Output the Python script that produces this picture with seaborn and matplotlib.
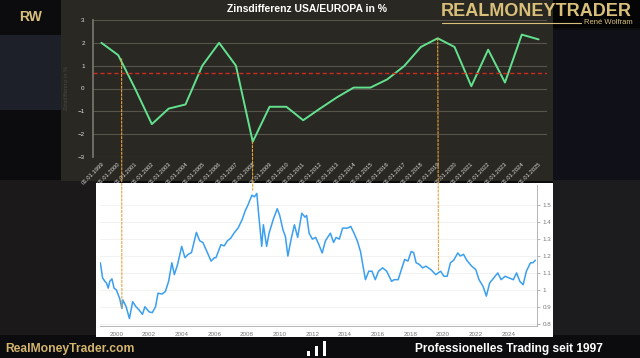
import numpy as np
import pandas as pd
import matplotlib
matplotlib.use('Agg')
import matplotlib.pyplot as plt
from matplotlib.patches import Rectangle, ConnectionPatch
from matplotlib.lines import Line2D
import seaborn as sns

# interest rate difference USA/Europe (yearly, 01.01.)
zins_years = list(range(1999, 2026))
zins_values = [2.0, 1.46, 0.0, -1.56, -0.88, -0.7, 1.0, 2.0, 1.0, -2.33,
               -0.8, -0.8, -1.39, -0.88, -0.39, 0.04, 0.04, 0.4, 0.98, 1.82,
               2.2, 1.82, 0.1, 1.7, 0.26, 2.36, 2.15]
zins_mean = 0.66

# EUR/USD (decimal years)
eur_dates = [1999.02, 1999.16, 1999.30, 1999.40, 1999.50, 1999.60, 1999.73, 1999.86,
             2000.00, 2000.20, 2000.34, 2000.40, 2000.60, 2000.80, 2001.00, 2001.20,
             2001.40, 2001.60, 2001.75, 2002.00, 2002.20, 2002.40, 2002.55, 2002.80,
             2003.00, 2003.20, 2003.40, 2003.55, 2003.75, 2004.00, 2004.20, 2004.40,
             2004.60, 2004.90, 2005.10, 2005.30, 2005.55, 2005.80, 2006.00, 2006.10,
             2006.40, 2006.60, 2006.80, 2007.00, 2007.20, 2007.45, 2007.70, 2007.90,
             2008.05, 2008.30, 2008.45, 2008.60, 2008.70, 2008.90, 2009.00, 2009.20,
             2009.35, 2009.60, 2009.85, 2010.00, 2010.20, 2010.35, 2010.50, 2010.70,
             2010.90, 2011.10, 2011.35, 2011.55, 2011.65, 2011.80, 2012.00, 2012.20,
             2012.40, 2012.60, 2012.80, 2013.10, 2013.30, 2013.45, 2013.65, 2013.85,
             2014.15, 2014.35, 2014.55, 2014.75, 2014.95, 2015.10, 2015.25, 2015.45,
             2015.65, 2015.85, 2016.05, 2016.30, 2016.55, 2016.85, 2017.00, 2017.25,
             2017.45, 2017.65, 2017.85, 2018.05, 2018.20, 2018.35, 2018.55, 2018.75,
             2018.95, 2019.25, 2019.55, 2019.85, 2020.05, 2020.25, 2020.45, 2020.65,
             2020.90, 2021.05, 2021.25, 2021.45, 2021.75, 2022.00, 2022.20, 2022.45,
             2022.65, 2022.85, 2023.10, 2023.35, 2023.55, 2023.80, 2024.05, 2024.30,
             2024.50, 2024.70, 2024.90, 2025.10, 2025.35, 2025.50, 2025.65]
eur_values = [1.16, 1.07, 1.05, 1.04, 1.01, 1.05, 1.065, 1.01,
              1.00, 0.95, 0.89, 0.94, 0.90, 0.83, 0.93, 0.90,
              0.88, 0.855, 0.90, 0.87, 0.865, 0.90, 0.98, 0.975,
              0.99, 1.05, 1.16, 1.09, 1.15, 1.257, 1.19, 1.21,
              1.22, 1.34, 1.29, 1.28, 1.225, 1.17, 1.19, 1.19,
              1.267, 1.26, 1.29, 1.305, 1.335, 1.365, 1.415, 1.47,
              1.50, 1.56, 1.55, 1.57, 1.46, 1.257, 1.385, 1.257,
              1.335, 1.415, 1.48, 1.44, 1.355, 1.315, 1.20, 1.30,
              1.385, 1.31, 1.453, 1.43, 1.44, 1.335, 1.30, 1.31,
              1.267, 1.218, 1.29, 1.335, 1.28, 1.31, 1.30, 1.365,
              1.365, 1.375, 1.335, 1.29, 1.225, 1.14, 1.06, 1.11,
              1.11, 1.06, 1.11, 1.13, 1.11, 1.05, 1.06, 1.06,
              1.12, 1.18, 1.17, 1.227, 1.22, 1.16, 1.15, 1.13,
              1.14, 1.12, 1.09, 1.11, 1.08, 1.08, 1.16, 1.175,
              1.218, 1.20, 1.21, 1.175, 1.14, 1.12, 1.06, 1.02,
              0.963, 1.04, 1.07, 1.10, 1.06, 1.08, 1.07, 1.06,
              1.10, 1.05, 1.03, 1.11, 1.16, 1.16, 1.175]

# dashed links between the two charts
link_top_x = [1.2, 8.98, 20.0]
link_top_y = [1.3, -2.33, 2.2]
link_bot_x = [2000.34, 2008.35, 2019.72]
link_bot_y = [0.89, 1.59, 1.11]

sns.set_theme(style="white")
plt.rcParams['font.family'] = ['Liberation Sans', 'DejaVu Sans']

W, H = 640, 358
GOLD = '#d9c07a'

def box(x0, y0, x1, y1):
    return [x0 / W, 1 - y1 / H, (x1 - x0) / W, (y1 - y0) / H]

def rect(x0, y0, x1, y1, color):
    fig.add_artist(Rectangle((x0 / W, 1 - y1 / H), (x1 - x0) / W, (y1 - y0) / H,
                             transform=fig.transFigure, color=color, lw=0, zorder=0))

fig = plt.figure(figsize=(6.4, 3.58), dpi=100, facecolor='#0c0c0f')

# video background
rect(0, 35, 61, 110, '#1e2029')
rect(0, 180, 96, 335, '#1b1919')
rect(553, 30, 640, 180, '#101018')
rect(553, 180, 640, 335, '#1c1c1e')

# top panel
bg_top = fig.add_axes(box(61, 0, 553, 181))
bg_top.set_facecolor('#2a2822')
bg_top.set_xticks([]); bg_top.set_yticks([])
for s in bg_top.spines.values():
    s.set_visible(False)

ax_top = fig.add_axes(box(93, 20, 547, 157))
ax_top.set_facecolor('none')
zins_df = pd.DataFrame({'idx': np.arange(len(zins_years)), 'wert': zins_values})
sns.lineplot(data=zins_df, x='idx', y='wert', ax=ax_top, color='#62e28f', lw=1.4)
ax_top.axhline(zins_mean, color='#cc2a22', ls=(0, (3, 2)), lw=1)
ax_top.set_xlim(-0.5, len(zins_years) - 0.5)
ax_top.set_ylim(-3, 3)
ax_top.set_yticks(range(-3, 4))
ax_top.set_xticks(zins_df['idx'])
ax_top.set_xticklabels([f'01.01.{y}' for y in zins_years], rotation=45, ha='right',
                       rotation_mode='anchor', fontsize=4.2, color='#d8d8d8')
ax_top.tick_params(axis='y', labelsize=4.5, labelcolor='#e0e0e0', length=0, pad=6)
ax_top.tick_params(axis='x', length=0, pad=3)
ax_top.grid(axis='y', color='#57544c', lw=0.8)
ax_top.grid(axis='x', visible=False)
for s in ['top', 'right', 'bottom']:
    ax_top.spines[s].set_visible(False)
ax_top.spines['left'].set_color('#77756d')
ax_top.set_xlabel('')
ax_top.set_ylabel('Zinsdifferenz in %', fontsize=4, color='#4a4840', labelpad=6)

fig.text(307 / W, 1 - 9 / H, 'Zinsdifferenz USA/EUROPA in %', ha='center', va='center',
         fontsize=7.5, fontweight='bold', color='white')

# bottom panel
bg_bot = fig.add_axes(box(96, 183, 553, 337))
bg_bot.set_facecolor('white')
bg_bot.set_xticks([]); bg_bot.set_yticks([])
for s in bg_bot.spines.values():
    s.set_visible(False)

ax_bot = fig.add_axes(box(100, 185, 537, 326))
ax_bot.set_facecolor('none')
sns.lineplot(x=eur_dates, y=eur_values, ax=ax_bot, color='#3a9ff0', lw=1.1)
ax_bot.set_xlim(1999.0, 2025.75)
ax_bot.set_ylim(0.786, 1.62)
ax_bot.yaxis.tick_right()
ax_bot.set_yticks([0.8, 0.9, 1.0, 1.1, 1.2, 1.3, 1.4, 1.5])
ax_bot.set_yticklabels(['0.8', '0.9', '1', '1.1', '1.2', '1.3', '1.4', '1.5'])
ax_bot.set_xticks(range(2000, 2025, 2))
ax_bot.tick_params(axis='both', labelsize=4.5, labelcolor='#777777', length=2,
                   width=0.5, color='#999999', pad=2)
ax_bot.grid(axis='y', color='#f0f0f0', lw=0.6)
ax_bot.grid(axis='x', visible=False)
for s in ['top', 'left']:
    ax_bot.spines[s].set_visible(False)
for s in ['right', 'bottom']:
    ax_bot.spines[s].set_color('#aaaaaa')
    ax_bot.spines[s].set_linewidth(0.6)

for tx, ty, bx, by in zip(link_top_x, link_top_y, link_bot_x, link_bot_y):
    con = ConnectionPatch(xyA=(tx, ty), coordsA=ax_top.transData,
                          xyB=(bx, by), coordsB=ax_bot.transData,
                          color='#e8a33a', ls=(0, (2, 1.5)), lw=0.8, zorder=5)
    fig.add_artist(con)

# logo box top right
rect(440, 0, 640, 28, '#050505')
fig.text(441 / W, 1 - 11 / H, 'REALMONEYTRADER', ha='left', va='center',
         fontsize=13, fontweight='bold', color=GOLD)
fig.add_artist(Line2D([442 / W, 581 / W], [1 - 22.5 / H, 1 - 22.5 / H],
                      transform=fig.transFigure, color=GOLD, lw=0.8))
fig.text(633 / W, 1 - 22.5 / H, 'René Wolfram', ha='right', va='center',
         fontsize=5.5, color=GOLD)
fig.text(31 / W, 1 - 17 / H, 'RW', ha='center', va='center', fontsize=10,
         fontweight='bold', color=GOLD)

# footer
fig.text(5 / W, 1 - 349 / H, 'RealMoneyTrader.com', ha='left', va='center',
         fontsize=8.7, fontweight='bold', color='#d4b56c')
fig.text(415 / W, 1 - 349 / H, 'Professionelles Trading seit 1997', ha='left',
         va='center', fontsize=8.6, fontweight='bold', color='white')
for x0, h in [(307, 5), (315, 10), (323, 15)]:
    rect(x0, 356 - h, x0 + 3, 356, 'white')

fig.savefig('out.png', dpi=100, facecolor=fig.get_facecolor())
